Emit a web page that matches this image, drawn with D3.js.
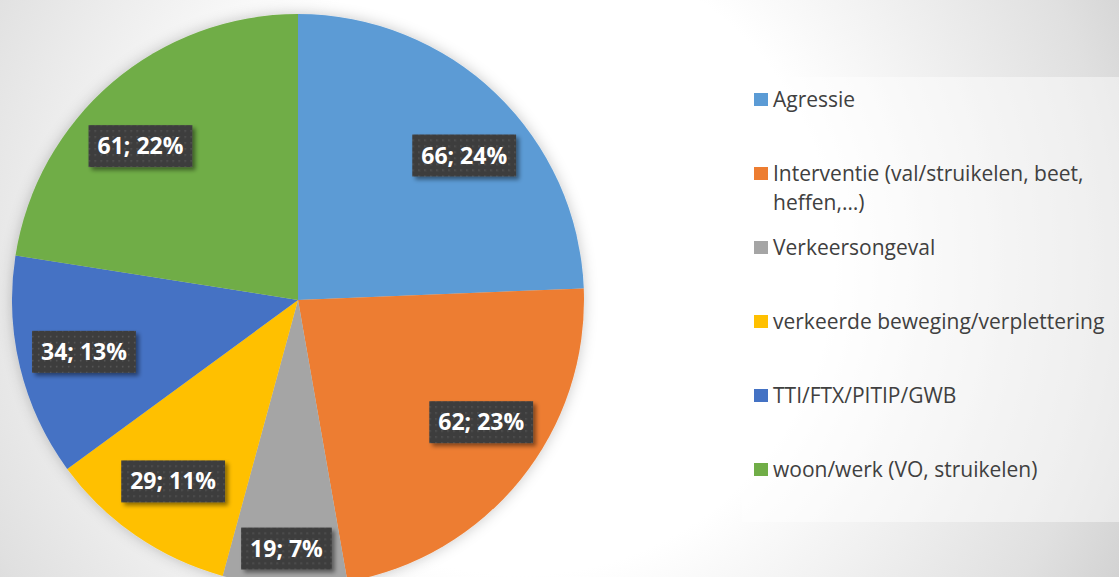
<!DOCTYPE html>
<html>
<head>
<meta charset="utf-8">
<script src="https://cdn.jsdelivr.net/npm/d3@7"></script>
<style>
  body { margin: 0; overflow: hidden; }
  svg { display: block; }
  .legend text { font-family: "Open Sans", sans-serif; font-size: 21px; fill: #404040; }
  .lbl text { font-family: "Open Sans", sans-serif; font-size: 23px; font-weight: bold; fill: #fff; }
</style>
</head>
<body>
<svg id="chart"></svg>
<script>
var categories = ["Agressie", "Interventie (val/struikelen, beet, heffen,…)", "Verkeersongeval",
                  "verkeerde beweging/verplettering", "TTI/FTX/PITIP/GWB", "woon/werk (VO, struikelen)"];
var counts = [66, 62, 19, 29, 34, 61];
var percents = [24, 23, 7, 11, 13, 22];
var colors = ["#5B9BD5", "#ED7D31", "#A5A5A5", "#FFC000", "#4472C4", "#70AD47"];

var width = 1119,
    height = 577,
    cx = 298,
    cy = 300,
    radius = 286;

var svg = d3.select("#chart")
    .attr("width", width)
    .attr("height", height);

var defs = svg.append("defs");

// background radial gradient
var bg = defs.append("radialGradient")
    .attr("id", "bg")
    .attr("gradientUnits", "userSpaceOnUse")
    .attr("cx", 520).attr("cy", 260).attr("r", 700);
bg.append("stop").attr("offset", "0").attr("stop-color", "#ffffff");
bg.append("stop").attr("offset", "0.45").attr("stop-color", "#ffffff");
bg.append("stop").attr("offset", "0.85").attr("stop-color", "#e0e0e0");
bg.append("stop").attr("offset", "1").attr("stop-color", "#cfcfcf");

var pieShadow = defs.append("filter").attr("id", "pieShadow")
    .attr("x", "-20%").attr("y", "-20%").attr("width", "140%").attr("height", "140%");
pieShadow.append("feDropShadow")
    .attr("dx", 0).attr("dy", 0).attr("stdDeviation", 7)
    .attr("flood-color", "#000").attr("flood-opacity", 0.22);

var boxShadow = defs.append("filter").attr("id", "boxShadow")
    .attr("x", "-20%").attr("y", "-30%").attr("width", "150%").attr("height", "170%");
boxShadow.append("feDropShadow")
    .attr("dx", 3).attr("dy", 3).attr("stdDeviation", 2)
    .attr("flood-color", "#000").attr("flood-opacity", 0.45);

var dots = defs.append("pattern")
    .attr("id", "dots")
    .attr("patternUnits", "userSpaceOnUse")
    .attr("width", 6).attr("height", 6);
dots.append("rect").attr("width", 6).attr("height", 6).attr("fill", "#3e3e3e");
dots.append("rect").attr("x", 2).attr("y", 2).attr("width", 1.5).attr("height", 1.5).attr("fill", "#565656");

svg.append("rect")
    .attr("width", width)
    .attr("height", height)
    .attr("fill", "url(#bg)");

// pie
var pie = d3.pie().sort(null).value(d => d);
var arcs = pie(counts);

var arc = d3.arc()
    .innerRadius(0)
    .outerRadius(radius);

var g = svg.append("g")
    .attr("transform", "translate(" + cx + "," + cy + ")");

g.append("g")
    .attr("filter", "url(#pieShadow)")
    .selectAll("path")
    .data(arcs)
    .enter().append("path")
    .attr("d", arc)
    .attr("fill", (d, i) => colors[i]);

// data labels - big slices sit a bit closer to the horizontal, like excel's best fit
var labelArc = d3.arc().innerRadius(radius * 0.77).outerRadius(radius * 0.77);
var smallArc = d3.arc().innerRadius(radius * 0.87).outerRadius(radius * 0.87);

var lbl = g.selectAll(".lbl")
    .data(arcs)
    .enter().append("g")
    .attr("class", "lbl")
    .attr("transform", function (d) {
        var share = (d.endAngle - d.startAngle) / (2 * Math.PI);
        var p;
        if (share < 0.09) {
            p = smallArc.centroid(d);
        } else {
            var mid = (d.startAngle + d.endAngle) / 2;
            // nudge big slices towards the horizontal
            var nudge = share > 0.2 ? 0.09 * Math.sign(Math.sin(2 * mid)) : 0;
            var a = { startAngle: mid + nudge, endAngle: mid + nudge };
            p = labelArc.centroid(a);
        }
        return "translate(" + p[0] + "," + p[1] + ")";
    });

lbl.each(function (d, i) {
    var el = d3.select(this);
    var rect = el.append("rect").attr("filter", "url(#boxShadow)").attr("fill", "url(#dots)");
    var t = el.append("text")
        .attr("text-anchor", "middle")
        .attr("dy", "0.35em")
        .text(counts[i] + "; " + percents[i] + "%");
    var w = t.node().getComputedTextLength() + 18;
    rect.attr("x", -w / 2).attr("y", -21).attr("width", w).attr("height", 42);
});

// legend
svg.append("rect")
    .attr("x", 742).attr("y", 77)
    .attr("width", width - 742).attr("height", 445)
    .attr("fill", "#ffffff").attr("fill-opacity", 0.45);

var legend = svg.append("g").attr("class", "legend");
var itemY = d3.scalePoint().domain(d3.range(categories.length)).range([100, 470]);

var item = legend.selectAll("g")
    .data(categories)
    .enter().append("g")
    .attr("transform", (d, i) => "translate(754," + itemY(i) + ")");

item.append("rect")
    .attr("x", 0).attr("y", -7)
    .attr("width", 14).attr("height", 13)
    .attr("fill", (d, i) => colors[i]);

item.each(function (d) {
    var text = d3.select(this).append("text")
        .attr("x", 19)
        .attr("dy", "0.35em");
    var words = d.split(" "), line = [];
    var tspan = text.append("tspan").attr("x", 19);
    words.forEach(function (w) {
        line.push(w);
        tspan.text(line.join(" "));
        if (tspan.node().getComputedTextLength() > 345 && line.length > 1) {
            line.pop();
            tspan.text(line.join(" "));
            line = [w];
            tspan = text.append("tspan").attr("x", 19).attr("dy", 29).text(w);
        }
    });
});
</script>
</body>
</html>
